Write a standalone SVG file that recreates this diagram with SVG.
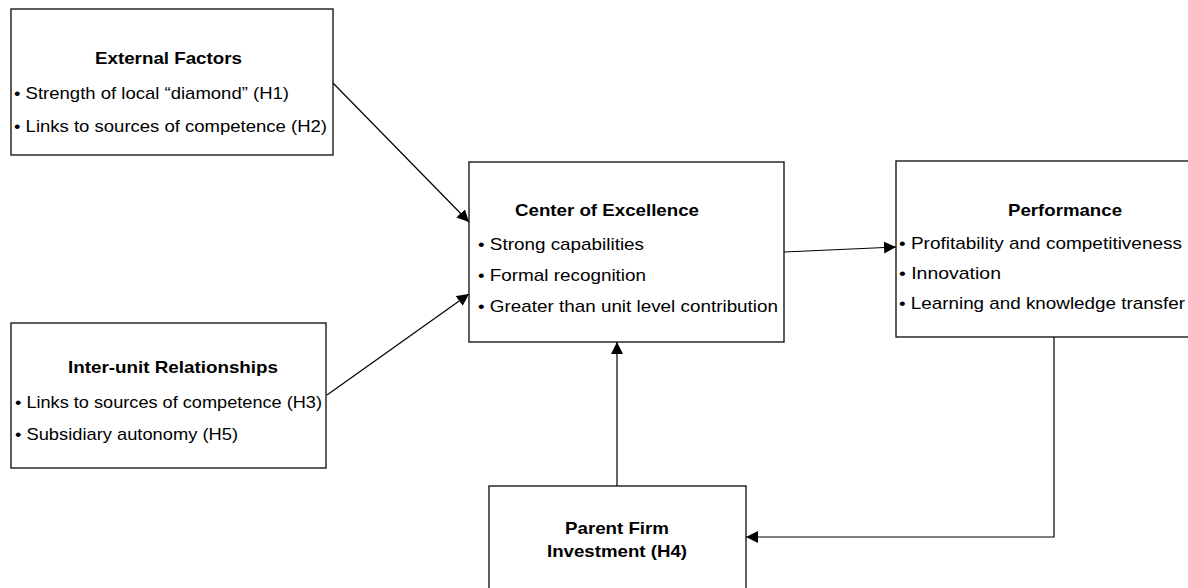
<svg xmlns="http://www.w3.org/2000/svg" width="1188" height="588" viewBox="0 0 1188 588">
<style>
  .box { fill: #ffffff; stroke: #1a1a1a; stroke-width: 1.4; }
  .t { font-family: "Liberation Sans", Arial, Helvetica, sans-serif; font-size: 17px; fill: #000000; }
  .b { font-weight: bold; }
  .conn { fill: none; stroke: #000000; stroke-width: 1.2; }
</style>
<defs>
  <marker id="arrow" markerUnits="userSpaceOnUse" markerWidth="14" markerHeight="14" refX="12" refY="6" orient="auto">
    <path d="M0,0 L12,6 L0,12 z" fill="#000000"/>
  </marker>
</defs>
<rect x="0" y="0" width="1188" height="588" fill="#ffffff"/>

<g id="external-factors">
  <rect class="box" x="11" y="9" width="322" height="146"/>
  <text class="t b" x="95" y="64" textLength="147" lengthAdjust="spacingAndGlyphs">External Factors</text>
  <text class="t" x="14" y="99" textLength="275" lengthAdjust="spacingAndGlyphs">• Strength of local “diamond” (H1)</text>
  <text class="t" x="14" y="132" textLength="313" lengthAdjust="spacingAndGlyphs">• Links to sources of competence (H2)</text>
</g>

<g id="inter-unit-relationships">
  <rect class="box" x="11" y="323" width="315" height="145"/>
  <text class="t b" x="68" y="373" textLength="210" lengthAdjust="spacingAndGlyphs">Inter-unit Relationships</text>
  <text class="t" x="15" y="408" textLength="307" lengthAdjust="spacingAndGlyphs">• Links to sources of competence (H3)</text>
  <text class="t" x="15" y="440" textLength="223" lengthAdjust="spacingAndGlyphs">• Subsidiary autonomy (H5)</text>
</g>

<g id="center-of-excellence">
  <rect class="box" x="469" y="162" width="315" height="180"/>
  <text class="t b" x="515" y="216" textLength="184" lengthAdjust="spacingAndGlyphs">Center of Excellence</text>
  <text class="t" x="478" y="250" textLength="166" lengthAdjust="spacingAndGlyphs">• Strong capabilities</text>
  <text class="t" x="478" y="281" textLength="168" lengthAdjust="spacingAndGlyphs">• Formal recognition</text>
  <text class="t" x="478" y="312" textLength="300" lengthAdjust="spacingAndGlyphs">• Greater than unit level contribution</text>
</g>

<g id="performance">
  <rect class="box" x="896" y="161" width="320" height="176"/>
  <text class="t b" x="1008" y="216" textLength="114" lengthAdjust="spacingAndGlyphs">Performance</text>
  <text class="t" x="899" y="249" textLength="283" lengthAdjust="spacingAndGlyphs">• Profitability and competitiveness</text>
  <text class="t" x="899" y="279" textLength="102" lengthAdjust="spacingAndGlyphs">• Innovation</text>
  <text class="t" x="899" y="309" textLength="286" lengthAdjust="spacingAndGlyphs">• Learning and knowledge transfer</text>
</g>

<g id="parent-firm-investment">
  <rect class="box" x="489" y="486" width="257" height="120"/>
  <text class="t b" x="565" y="534" textLength="104" lengthAdjust="spacingAndGlyphs">Parent Firm</text>
  <text class="t b" x="547" y="557" textLength="140" lengthAdjust="spacingAndGlyphs">Investment (H4)</text>
</g>

<g id="connectors">
  <line class="conn" x1="333" y1="83" x2="469" y2="222" marker-end="url(#arrow)"/>
  <line class="conn" x1="327" y1="395" x2="469" y2="294" marker-end="url(#arrow)"/>
  <line class="conn" x1="784" y1="252" x2="896" y2="247" marker-end="url(#arrow)"/>
  <line class="conn" x1="617" y1="486" x2="617" y2="342" marker-end="url(#arrow)"/>
  <polyline class="conn" points="1054,337 1054,537 746,537" marker-end="url(#arrow)"/>
</g>
</svg>
